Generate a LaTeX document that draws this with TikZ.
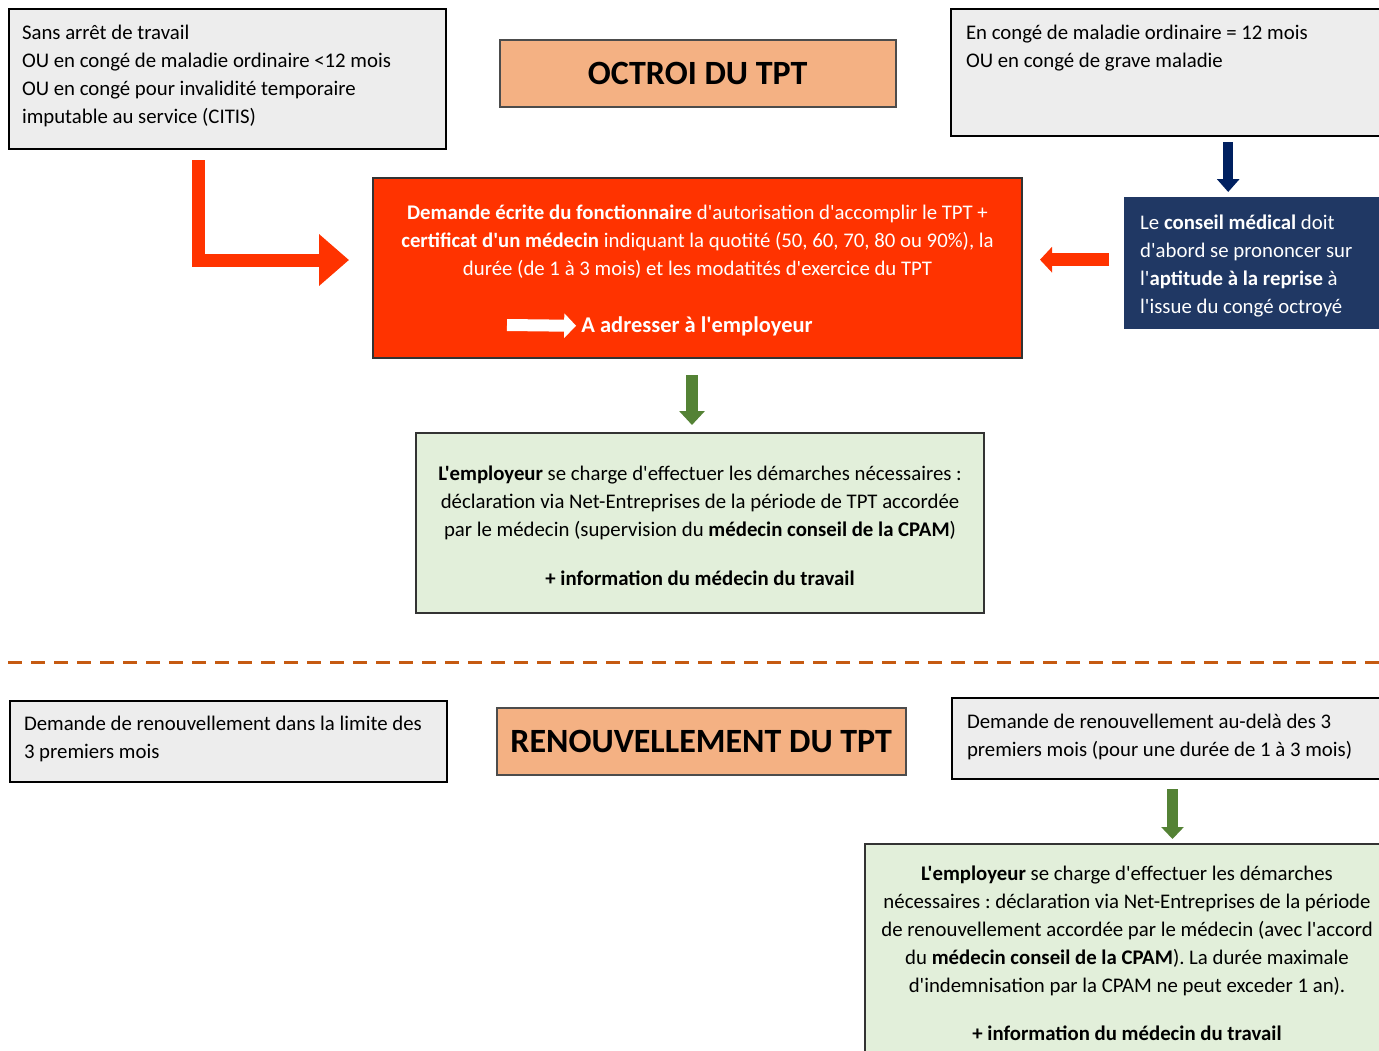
\documentclass[tikz,border=0pt]{standalone}
\usepackage{fontspec}
\setmainfont{Carlito}[Ligatures=TeXOff]
\usetikzlibrary{arrows.meta,positioning}
\definecolor{boxgray}{HTML}{EDEDED}
\definecolor{titleorange}{HTML}{F4B183}
\definecolor{alertred}{HTML}{FF3300}
\definecolor{navyfill}{HTML}{203864}
\definecolor{navyarrow}{HTML}{002060}
\definecolor{leafgreen}{HTML}{548235}
\definecolor{palegreen}{HTML}{E2EFDA}
\definecolor{rustdash}{HTML}{C55A11}
\newcommand{\bodyfont}{\fontsize{20.8}{28}\selectfont}
\tikzset{every node/.style={execute at begin node={\spaceskip=\fontdimen2\font\xspaceskip=\fontdimen2\font}}}
\tikzstyle{situation}=[
	rectangle,
	draw=black,
	line width=2pt,
	fill=boxgray,
	anchor=north west,
	align=left,
	inner ysep=0pt,
	font=\bodyfont
]
\tikzstyle{heading}=[
	rectangle,
	draw=black!70,
	line width=1.5pt,
	fill=titleorange,
	anchor=north west,
	font=\bfseries\fontsize{34}{40}\selectfont
]
\tikzstyle{request}=[
	rectangle,
	draw=black!80,
	line width=2pt,
	fill=alertred,
	text=white,
	anchor=north west,
	align=center,
	inner ysep=0pt,
	font=\bodyfont
]
\tikzstyle{opinion}=[
	rectangle,
	draw=navyfill,
	fill=navyfill,
	text=white,
	anchor=north west,
	align=left,
	inner ysep=0pt,
	font=\bodyfont
]
\tikzstyle{employer}=[
	rectangle,
	draw=black!80,
	line width=2pt,
	fill=palegreen,
	anchor=north west,
	align=center,
	inner ysep=0pt,
	font=\bodyfont
]
\tikzstyle{flow}=[
	line width=12pt,
	-{Triangle[width=25pt,length=14pt]}
]
\tikzstyle{bigflow}=[
	line width=13pt,
	line join=miter,
	-{Triangle[width=50pt,length=30pt]}
]
\tikzstyle{separator}=[
	rustdash,
	line width=3pt,
	dash pattern=on 14pt off 9pt
]

\begin{document}
\begin{tikzpicture}[x=1pt,y=-1pt]
\useasboundingbox (0,0) rectangle (1379,1050);
\clip (0,0) rectangle (1379,1050);

\node [situation, inner xsep=13pt, text width=411pt, text height=30pt, text depth=110pt] (SansArret) at (8,8)
	{Sans arrêt de travail\\OU en congé de maladie ordinaire <12 mois\\OU en congé pour invalidité temporaire\\imputable au service (CITIS)};
\node [heading, minimum width=396pt, minimum height=67pt] (OctroiTitre) at (499,39) {OCTROI DU TPT};
\node [situation, inner xsep=15pt, text width=410pt, text height=30pt, text depth=97pt] (CongeLong) at (950,8)
	{En congé de maladie ordinaire = 12 mois\\OU en congé de grave maladie};

\node [request, inner xsep=10pt, text width=629pt, text height=41pt, text depth=139pt] (Demande) at (372,177)
	{\textbf{Demande écrite du fonctionnaire} d'autorisation d'accomplir le TPT +\\
	\textbf{certificat d'un médecin} indiquant la quotité (50, 60, 70, 80 ou 90\%), la\\
	durée (de 1 à 3 mois) et les modatités d'exercice du TPT};
\node [anchor=base, inner sep=0pt, text=white, font=\bfseries\fontsize{22.5}{28}\selectfont] (Adresser) at (697,332) {A adresser à l'employeur};
\node [opinion, inner xsep=16pt, text width=229pt, text height=32pt, text depth=99pt] (Conseil) at (1124,197)
	{Le \textbf{conseil médical} doit\\d'abord se prononcer sur\\l'\textbf{aptitude à la reprise} à\\l'issue du congé octroyé};

\node [employer, inner xsep=10pt, text width=548pt, text height=47pt, text depth=133pt] (Employeur) at (415,432)
	{\textbf{L'employeur} se charge d'effectuer les démarches nécessaires :\\
	déclaration via Net-Entreprises de la période de TPT accordée\\
	par le médecin (supervision du \textbf{médecin conseil de la CPAM})\\[21pt]
	\textbf{+ information du médecin du travail}};

\draw [bigflow, alertred, shorten >=23pt] ([xshift=-29pt,yshift=-10pt]SansArret.south) |- ([yshift=8pt]Demande.west);
\coordinate (FlecheBlanche) at (507,325);
\draw [line width=12pt, white, -{Triangle[width=24pt,length=12pt]}, shorten >=5pt] (FlecheBlanche) -- (Adresser.west);
\draw [flow, alertred, line width=13pt, -{Triangle[width=25pt,length=12pt]}] ([xshift=-15pt,yshift=3pt]Conseil.west) -- ([xshift=17pt,yshift=3pt]Conseil.west -| Demande.east);
\draw [flow, navyarrow, line width=10pt, -{Triangle[width=22pt,length=13pt]}] ([xshift=-26.5pt]CongeLong.south -| Conseil.north) ++(0,5) -- ([xshift=-26.5pt,yshift=5pt]Conseil.north);
\draw [flow, leafgreen] ([xshift=-5.5pt,yshift=-16pt]Demande.south) -- ([xshift=-8pt,yshift=7pt]Employeur.north);

\draw [separator] (8,662) -- (1379,662);

\node [situation, inner xsep=14pt, text width=409pt, text height=29pt, text depth=52pt] (RenouvCourt) at (9,700)
	{Demande de renouvellement dans la limite des\\3 premiers mois};
\node [heading, minimum width=409pt, minimum height=67pt] (RenouvTitre) at (496,707) {RENOUVELLEMENT DU TPT};
\node [situation, inner xsep=15pt, text width=404pt, text height=30pt, text depth=51pt] (RenouvLong) at (951,697)
	{Demande de renouvellement au-delà des 3\\premiers mois (pour une durée de 1 à 3 mois)};

\node [employer, inner xsep=10pt, text width=504pt, text height=36pt, text depth=183pt] (Employeur2) at (864,843)
	{\textbf{L'employeur} se charge d'effectuer les démarches\\
	nécessaires : déclaration via Net-Entreprises de la période\\
	de renouvellement accordée par le médecin (avec l'accord\\
	du \textbf{médecin conseil de la CPAM}). La durée maximale\\
	d'indemnisation par la CPAM ne peut exceder 1 an).\\[20pt]
	\textbf{+ information du médecin du travail}};

\draw [flow, leafgreen, line width=11pt, -{Triangle[width=22pt,length=12pt]}] ([xshift=3.5pt,yshift=-9pt]RenouvLong.south) -- ([xshift=3.5pt,yshift=4pt]RenouvLong.south |- Employeur2.north);
\end{tikzpicture}
\end{document}
